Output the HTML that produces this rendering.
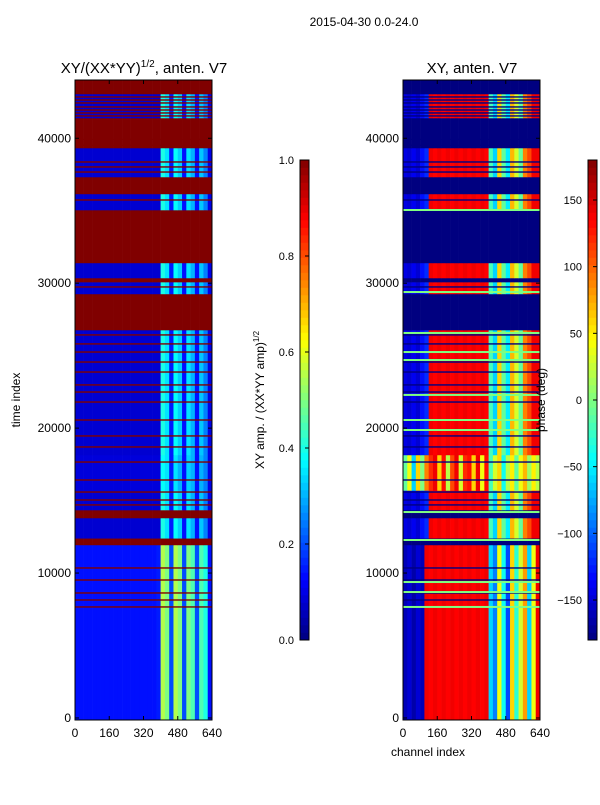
<!DOCTYPE html>
<html><head><meta charset="utf-8"><style>
body{margin:0;background:#fff;font-family:"Liberation Sans",sans-serif;}
svg text{font-family:"Liberation Sans",sans-serif;fill:#000;}
</style></head><body>
<svg id="fig" width="600" height="800" xmlns="http://www.w3.org/2000/svg">
<rect width="600" height="800" fill="#fff"/>
<text x="364" y="26" font-size="12" text-anchor="middle">2015-04-30 0.0-24.0</text>
<text x="144" y="73" font-size="15" text-anchor="middle">XY/(XX*YY)<tspan font-size="10" dy="-6">1/2</tspan><tspan dy="6">, anten. V7</tspan></text>
<text x="472" y="73" font-size="15" text-anchor="middle">XY, anten. V7</text>
<g id="left"></g>
<g id="right"></g>
<g id="axes"></g>
<text transform="translate(20,400) rotate(-90)" font-size="12" text-anchor="middle">time index</text>
<text x="428" y="756" font-size="12" text-anchor="middle">channel index</text>
<text transform="translate(264,400) rotate(-90)" font-size="12" text-anchor="middle">XY amp. / (XX*YY amp)<tspan font-size="8" dy="-5">1/2</tspan></text>
<text transform="translate(545,400) rotate(-90)" font-size="12" text-anchor="middle">phase (deg)</text>
</svg>
<script>
// ---- data ----
const bandStart=[-140,11940,12400,13800,14350,15700,18150,26770,29260,30080,30360,31400,35050,36160,37330,39330,41400,43056];
const bandEnd  =[11940,12400,13800,14350,15700,18150,26770,29260,30080,30360,31400,35050,36160,37330,39330,41400,43056,44020];
const bandProfile=[2,0,1,0,1,3,1,0,1,0,1,0,1,0,1,0,1,0];
const ampProfiles=[
 Array(32).fill(1.0),
 [0.08,0.08,0.08,0.08,0.08,0.08,0.08,0.08,0.08,0.08,0.08,0.08,0.08,0.08,0.08,0.08,0.08,0.08,0.08,0.08,0.4,0.35,0.15,0.38,0.33,0.14,0.35,0.3,0.14,0.32,0.25,0.1],
 [0.14,0.14,0.14,0.14,0.14,0.14,0.14,0.14,0.14,0.14,0.14,0.14,0.14,0.14,0.14,0.14,0.14,0.14,0.14,0.15,0.55,0.5,0.2,0.55,0.5,0.2,0.5,0.45,0.2,0.45,0.4,0.14],
 [0.09,0.09,0.09,0.09,0.09,0.09,0.09,0.09,0.09,0.09,0.09,0.09,0.09,0.09,0.09,0.09,0.09,0.09,0.09,0.09,0.38,0.35,0.15,0.35,0.3,0.14,0.33,0.3,0.14,0.3,0.25,0.1]
];
const phaseProfiles=[
 Array(32).fill(-180),
 [-145,-150,-140,-150,-130,-120,140,135,140,135,140,135,140,135,140,135,140,135,140,135,-20,-60,60,-10,-50,70,30,-10,90,110,140,140],
 [-160,-150,-165,-150,-160,140,135,140,135,140,135,140,135,140,135,140,135,140,135,140,-60,-90,40,-40,-110,60,-30,30,80,-60,40,140],
 [-10,40,-60,60,0,90,120,140,60,130,20,110,140,30,120,130,60,140,40,130,-20,30,60,-40,20,50,-10,40,70,10,50,20]
];
const flagLines=[42850,42640,42435,42160,41950,41745,41540,39920,39510,38364,38020,37670,35740,29740,26430,25810,25250,24560,23870,22980,22490,21800,20560,19460,18700,17660,16420,15590,15040,14700,10350,9520,8625,8140,7660];
const greenLines=[35050,29390,26565,25250,24700,22290,20560,19870,14210,12280,9380,8690,7660];
const yTicks=[0,10000,20000,30000,40000];
const xTicks=[0,160,320,480,640];
const ampTicks=[0.0,0.2,0.4,0.6,0.8,1.0];
const phaseTicks=[-150,-100,-50,0,50,100,150];
// ---- scales ----
const T0=-140,T1=44020,PY0=80,PY1=720,PW=137;
const yS=t=>PY1-(t-T0)/(T1-T0)*(PY1-PY0);
const xS=(c,x0)=>x0+c/640*PW;
function jet(v){const c=x=>Math.round(255*Math.max(0,Math.min(1,x)));
 return `rgb(${c(1.5-Math.abs(4*v-3))},${c(1.5-Math.abs(4*v-2))},${c(1.5-Math.abs(4*v-1))})`;}
const ampC=v=>jet(v), phC=v=>jet((v+180)/360);
const NS='http://www.w3.org/2000/svg';
function mk(tag,attrs,parent){const e=document.createElementNS(NS,tag);for(const k in attrs)e.setAttribute(k,attrs[k]);parent.appendChild(e);return e;}
const L=document.getElementById('left'),R=document.getElementById('right'),A=document.getElementById('axes');
function drawHeat(g,x0,profiles,colf){
 for(let b=0;b<bandStart.length;b++){
  const p=profiles[bandProfile[b]];
  const y1=yS(bandEnd[b]),y2=yS(bandStart[b]);
  for(let i=0;i<32;i++){
   const r=mk('rect',{x:xS(i*20,x0),y:y1,width:PW/32+0.3,height:y2-y1+0.3,fill:colf(p[i])},g);
   
   
  }
 }
}
drawHeat(L,75,ampProfiles,ampC);
drawHeat(R,403,phaseProfiles,phC);
flagLines.forEach(t=>{
 const a=mk('rect',{x:75,y:yS(t)-0.7,width:PW,height:1.4,fill:ampC(1)},L);
 
 
 const b=mk('rect',{x:403,y:yS(t)-0.7,width:PW,height:1.4,fill:phC(-180)},R);
 
 
});
greenLines.forEach(t=>{
 const b=mk('rect',{x:403,y:yS(t)-1,width:PW,height:2,fill:phC(0)},R);
 
 
});
// axes frames & ticks
[75,403].forEach(x0=>{
 const f=mk('rect',{x:x0,y:PY0,width:PW,height:PY1-PY0,fill:'none',stroke:'#000','stroke-width':1},A);
 
 
 yTicks.forEach(t=>{
  const y=yS(t);
  mk('line',{x1:x0,x2:x0+4,y1:y,y2:y,stroke:'#000'},A);
  mk('line',{x1:x0+PW-4,x2:x0+PW,y1:y,y2:y,stroke:'#000'},A);
  const tx=mk('text',{x:x0-4,y:y+4,'font-size':12,'text-anchor':'end'},A);
  tx.textContent=t;
  
  
 });
 xTicks.forEach(c=>{
  const x=xS(c,x0);
  mk('line',{x1:x,x2:x,y1:PY1,y2:PY1-4,stroke:'#000'},A);
  mk('line',{x1:x,x2:x,y1:PY0,y2:PY0+4,stroke:'#000'},A);
  const tx=mk('text',{x:x,y:PY1+17,'font-size':12,'text-anchor':'middle'},A);
  tx.textContent=c;
  
  
 });
});
// colorbars
function colorbar(x0,vmin,vmax,ticks,colf,fmt,name){
 const n=64;
 for(let i=0;i<n;i++){
  const v=vmin+(i+0.5)/n*(vmax-vmin);
  const r=mk('rect',{x:x0,y:640-(i+1)*480/n,width:9,height:480/n+0.3,fill:colf(v)},A);
  
  
 }
 const f=mk('rect',{x:x0,y:160,width:9,height:480,fill:'none',stroke:'#000'},A);
 
 
 ticks.forEach(t=>{
  const y=640-(t-vmin)/(vmax-vmin)*480;
  mk('line',{x1:x0+5,x2:x0+9,y1:y,y2:y,stroke:'#000'},A);
  const tx=mk('text',{x:x0-6,y:y+4,'font-size':11,'text-anchor':'end'},A);
  tx.textContent=fmt(t);
  
  
 });
}
colorbar(300,0,1,ampTicks,ampC,t=>t.toFixed(1),'amp-colorbar');
colorbar(588,-180,180,phaseTicks,phC,t=>t<0?'\u2212'+(-t):String(t),'phase-colorbar');
</script>
</body></html>
